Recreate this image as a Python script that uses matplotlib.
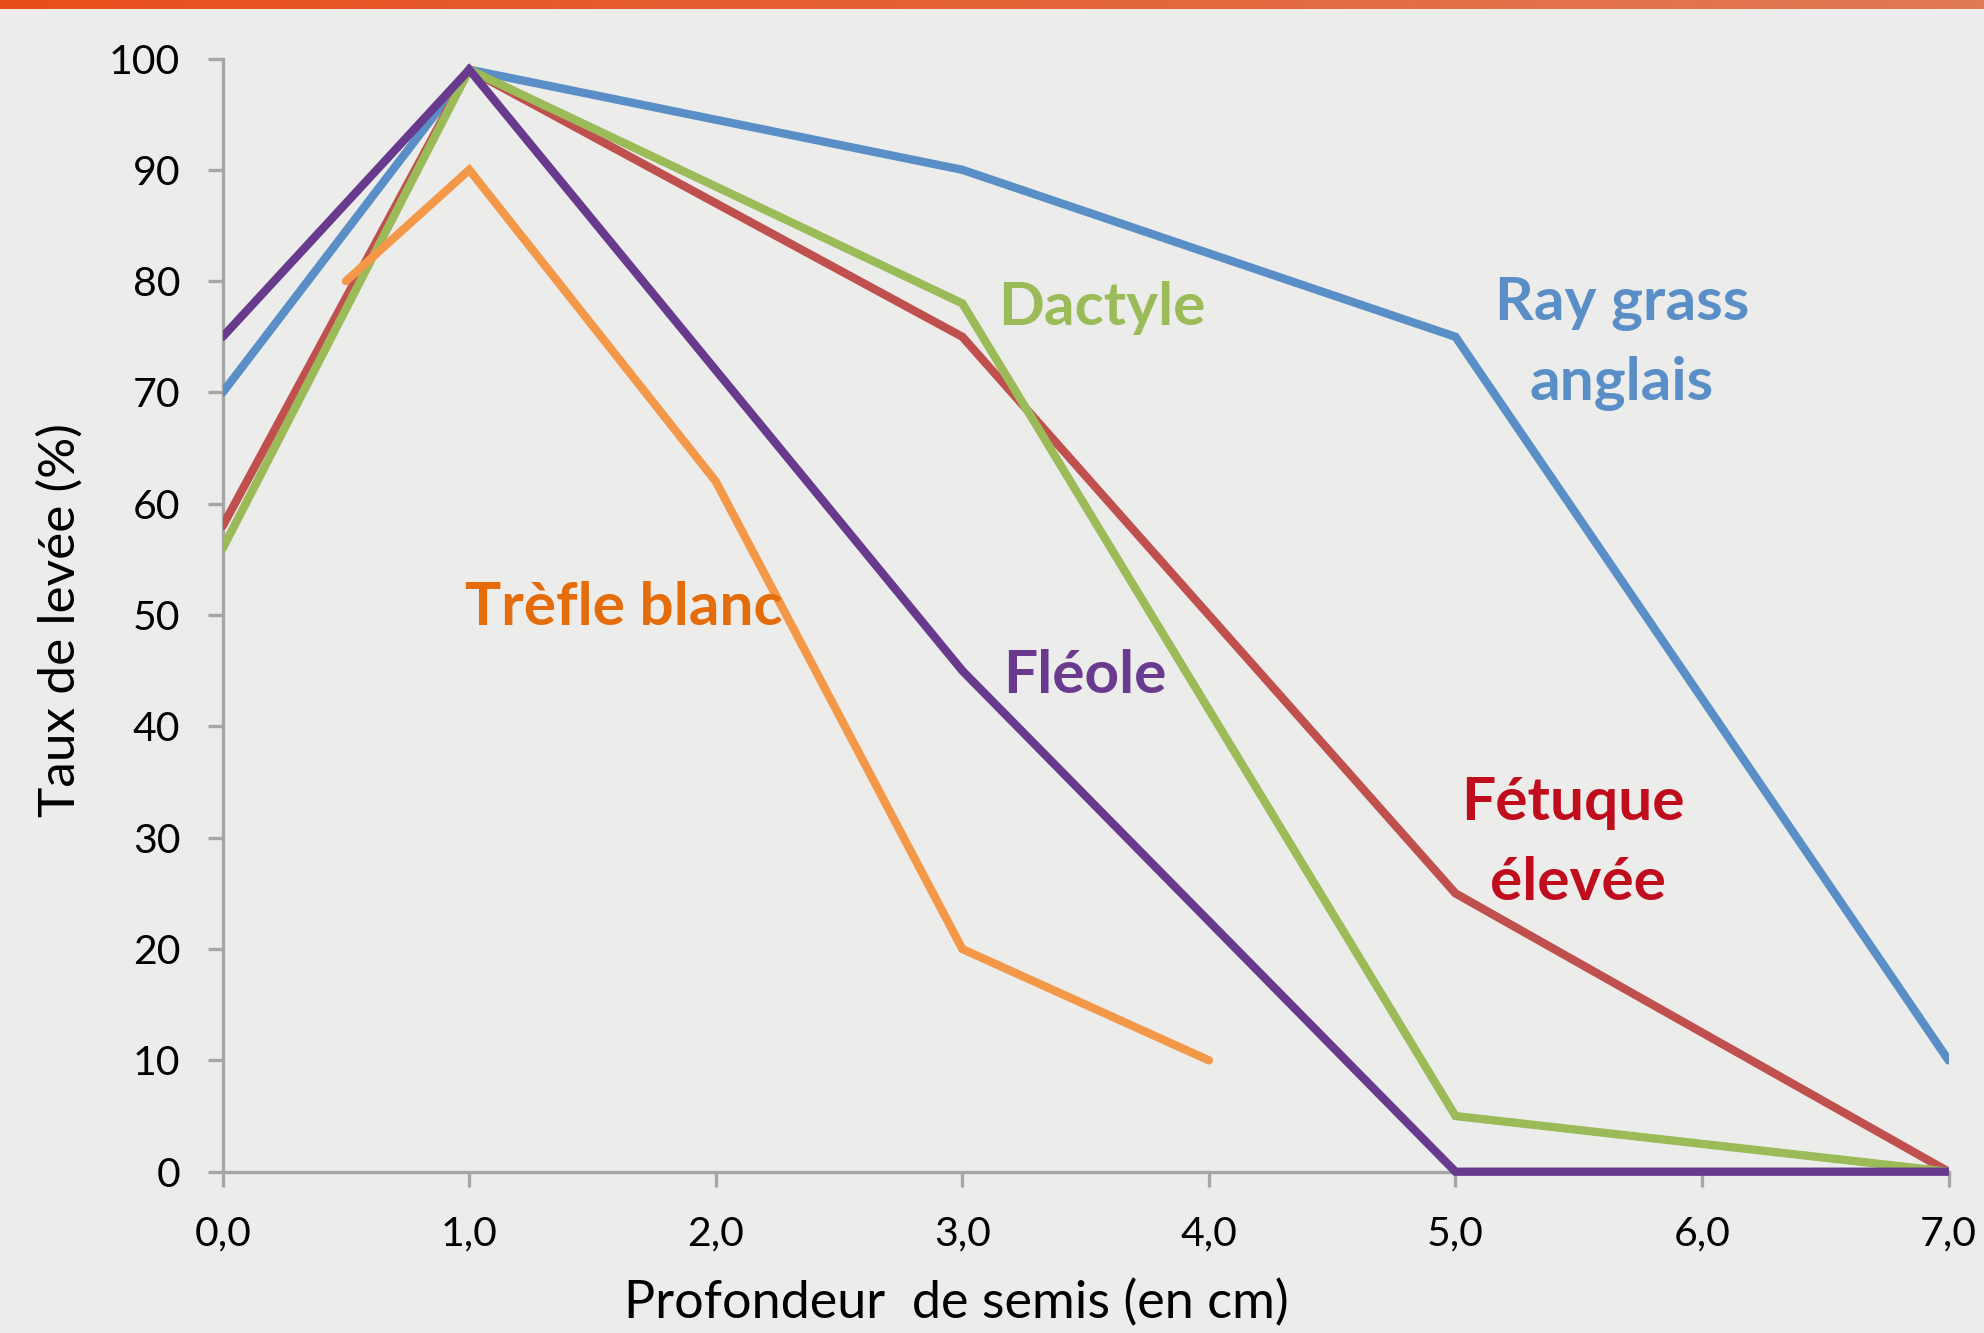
import numpy as np
import matplotlib
matplotlib.use("Agg")
import matplotlib.pyplot as plt
from matplotlib.patches import Rectangle
from matplotlib.ticker import FixedLocator

plt.rcParams['font.family'] = ['Lato', 'DejaVu Sans']

# ---- data ----
x_main = [0, 1, 3, 5, 7]
ray_grass = [70, 99, 90, 75, 10]
fetuque = [58, 99, 75, 25, 0]
dactyle = [56, 99, 78, 5, 0]
fleole = [75, 99, 45, 0, 0]
x_trefle = [0.5, 1, 2, 3, 4]
trefle = [80, 90, 62, 20, 10]

x_ticks = [0, 1, 2, 3, 4, 5, 6, 7]
x_tick_labels = ["0,0", "1,0", "2,0", "3,0", "4,0", "5,0", "6,0", "7,0"]
y_ticks = [0, 10, 20, 30, 40, 50, 60, 70, 80, 90, 100]

W, H = 1984, 1333
BG = '#ECEDEB'
fig = plt.figure(figsize=(W / 100, H / 100), dpi=100, facecolor=BG)

# top gradient bar
bar = fig.add_axes([0, 1 - 9 / H, 1, 9 / H])
grad = np.linspace(0, 1, 256)
c0 = np.array([232, 78, 27]) / 255
c1 = np.array([225, 122, 85]) / 255
img = (c0[None, :] * (1 - grad[:, None]) + c1[None, :] * grad[:, None])[None, :, :]
bar.imshow(img, aspect='auto', extent=[0, 1, 0, 1])
bar.set_axis_off()

x0, x1 = 222.7, 1948.6
y100, y0 = 58.5, 1171.7
ax = fig.add_axes([x0 / W, 1 - y0 / H, (x1 - x0) / W, (y0 - y100) / H])
ax.set_facecolor(BG)
ax.set_xlim(0, 7)
ax.set_ylim(0, 100)

clip = Rectangle((0, -20), 7, 140, transform=ax.transData, fill=False, visible=False)
ax.add_patch(clip)

lw = 6.0
series = [
    (x_main, ray_grass, '#5A8EC6'),
    (x_main, fetuque, '#C0504D'),
    (x_main, dactyle, '#9BBB59'),
    (x_main, fleole, '#683A8D'),
    (x_trefle, trefle, '#F39848'),
]
for xs, ys, col in series:
    ln, = ax.plot(xs, ys, color=col, lw=lw, solid_capstyle='round',
                  solid_joinstyle='miter', zorder=3)
    ln.set_clip_path(clip)

for s in ['top', 'right']:
    ax.spines[s].set_visible(False)
for s in ['left', 'bottom']:
    ax.spines[s].set_color('#A6A6A6')
    ax.spines[s].set_linewidth(2.4)

ax.xaxis.set_major_locator(FixedLocator(x_ticks))
ax.set_xticklabels(x_tick_labels)
ax.yaxis.set_major_locator(FixedLocator(y_ticks))
ax.tick_params(axis='both', direction='out', length=10.5, width=2.4,
               color='#A6A6A6', labelsize=29.5, labelcolor='black')
ax.tick_params(axis='y', pad=20)
ax.tick_params(axis='x', pad=21)

ax.set_xlabel("Profondeur  de semis (en cm)", fontsize=37.5)
ax.xaxis.set_label_coords(0.4249, -0.1314)
ax.xaxis.label.set_va('baseline')
ax.set_ylabel("Taux de levée (%)", fontsize=37)
ax.yaxis.set_label_coords(-0.0943, 0.4956)
ax.yaxis.label.set_va('center')


def ftext(px, py, s, col):
    fig.text(px / W, 1 - py / H, s, color=col, fontsize=43.5, fontweight='bold',
             ha='center', va='baseline', zorder=2)


ftext(1102, 325, "Dactyle", '#9BBB59')
ftext(1622, 320, "Ray grass", '#5A8EC6')
ftext(1622, 400, "anglais", '#5A8EC6')
ftext(624, 625, "Trèfle blanc", '#E46C0A')
ftext(1085, 693, "Fléole", '#6A3A8E')
ftext(1573, 820, "Fétuque", '#C00D1E')
ftext(1578, 900, "élevée", '#C00D1E')

fig.savefig("out.png", dpi=100, facecolor=BG)
